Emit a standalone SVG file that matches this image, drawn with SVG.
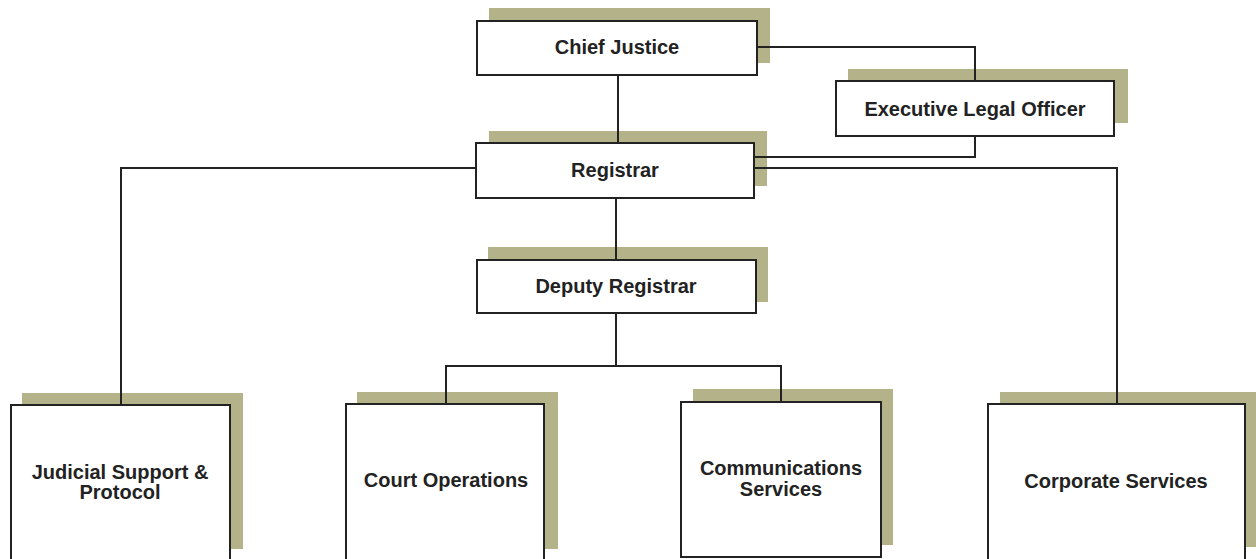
<svg xmlns="http://www.w3.org/2000/svg" width="1256" height="559" viewBox="0 0 1256 559">
<style>
.sh{fill:#b3b288;}
.bx{fill:#ffffff;stroke:#222222;stroke-width:2;}
.t{font-family:"Liberation Sans",Arial,sans-serif;font-weight:bold;font-size:20px;fill:#222222;text-anchor:middle;}
.c{fill:none;stroke:#222222;stroke-width:2;}
</style>
<rect width="1256" height="559" fill="#ffffff"/>
<g id="shadows">
<rect class="sh" x="489" y="8" width="281" height="55"/>
<rect class="sh" x="848" y="69" width="280" height="54"/>
<rect class="sh" x="489" y="131" width="278" height="55"/>
<rect class="sh" x="488" y="247" width="280" height="55"/>
<rect class="sh" x="22" y="393" width="221" height="156"/>
<rect class="sh" x="357" y="392" width="201" height="157"/>
<rect class="sh" x="693" y="389" width="200" height="156"/>
<rect class="sh" x="1000" y="392" width="256" height="155"/>
</g>
<g id="connectors">
<path class="c" d="M618 75 V143"/>
<path class="c" d="M757 47 H975 V81"/>
<path class="c" d="M975 136 V157 H754"/>
<path class="c" d="M754 168 H1117 V404"/>
<path class="c" d="M476 168 H121 V405"/>
<path class="c" d="M616 198 V260"/>
<path class="c" d="M616 313 V366"/>
<path class="c" d="M446 404 V366 H781 V402"/>
</g>
<g id="chief-justice">
<rect class="bx" x="477" y="21" width="280" height="54"/>
<text class="t" x="617" y="54">Chief Justice</text>
</g>
<g id="executive-legal-officer">
<rect class="bx" x="836" y="81" width="278" height="55"/>
<text class="t" x="975" y="116">Executive Legal Officer</text>
</g>
<g id="registrar">
<rect class="bx" x="476" y="143" width="278" height="55"/>
<text class="t" x="615" y="177">Registrar</text>
</g>
<g id="deputy-registrar">
<rect class="bx" x="477" y="260" width="279" height="53"/>
<text class="t" x="616" y="293">Deputy Registrar</text>
</g>
<g id="judicial-support">
<rect class="bx" x="11" y="405" width="219" height="160"/>
<text class="t" x="120" y="479">Judicial Support &amp;</text>
<text class="t" x="120" y="499">Protocol</text>
</g>
<g id="court-operations">
<rect class="bx" x="346" y="404" width="198" height="160"/>
<text class="t" x="446" y="487">Court Operations</text>
</g>
<g id="communications-services">
<rect class="bx" x="681" y="402" width="200" height="155"/>
<text class="t" x="781" y="475">Communications</text>
<text class="t" x="781" y="496">Services</text>
</g>
<g id="corporate-services">
<rect class="bx" x="988" y="404" width="257" height="160"/>
<text class="t" x="1116" y="488">Corporate Services</text>
</g>
</svg>
